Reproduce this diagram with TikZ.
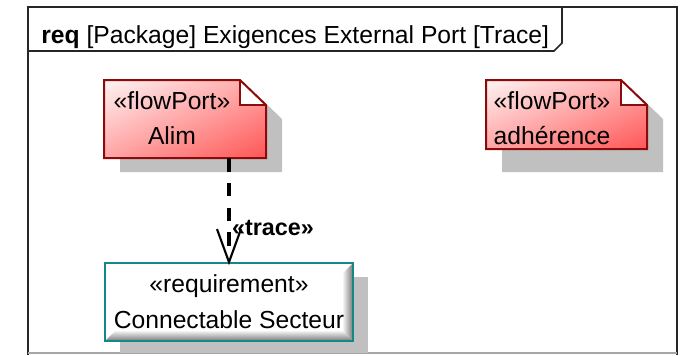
\documentclass[tikz,border=0pt]{standalone}
\usepackage{fontspec}
\setmainfont{Liberation Sans}
\usetikzlibrary{calc,shadings}
\definecolor{notered}{RGB}{140,10,10}
\definecolor{shadowgray}{RGB}{192,192,192}
\definecolor{reqteal}{RGB}{20,135,135}
\definecolor{notelight}{RGB}{255,244,244}
\definecolor{notemid}{RGB}{255,165,165}
\definecolor{notedark}{RGB}{255,85,85}
\definecolor{bevelgray}{RGB}{120,120,120}
\begin{document}
\begin{tikzpicture}[x=0.75pt,y=-0.75pt,
  txt/.style={inner sep=0pt, anchor=base, font=\fontsize{18.5}{22}\selectfont},
  boldtxt/.style={txt, font=\fontsize{17.5}{21}\selectfont\bfseries},
  area/.style={inner sep=0pt, draw=none},
  noteshade/.style={upper left=notelight, upper right=notemid, lower left=notemid, lower right=notedark},
  noteline/.style={draw=notered, line width=1.5pt, line join=miter},
  foldline/.style={draw=notered, line width=1.1pt},
  framel/.style={draw=black!85, line width=1.5pt},
  tracel/.style={line width=3pt, dash pattern=on 10pt off 8.5pt},
  vhead/.style={line width=1.6pt, line join=miter}
]
\useasboundingbox (0,0) rectangle (680,355);
\fill[white] (0,0) rectangle (680,355);

% frame
\draw[framel] (28,355) -- (28,7) -- (677,7) -- (677,355);
\draw[gray!70, line width=0.8pt] (28,353) -- (677,353);
\draw[draw=black!85, line width=1.2pt] (28,51) -- (554,51) -- (562,43) -- (562,7);
\node[txt, anchor=base west] (title) at (41,43) {\textbf{req} [Package] Exigences External Port [Trace]};

% note Alim
\fill[shadowgray] (120,94) -- (256,94) -- (282,119) -- (282,172) -- (120,172) -- cycle;
\shade[noteshade] (104,80) -- (240,80) -- (266,105) -- (266,158) -- (104,158) -- cycle;
\fill[white] (240,80) -- (266,105) -- (240,105) -- cycle;
\path[noteline] (104,80) -- (240,80) -- (266,105) -- (266,158) -- (104,158) -- cycle;
\path[foldline] (240,80) -- (240,105) -- (266,105);
\node[area, minimum width=121.5pt, minimum height=58.5pt] (alim) at (185,119) {};
\node[txt] (alimst) at (172,109) {«flowPort»};
\node[txt] (alimname) at (172,144) {Alim};

% note adherence
\fill[shadowgray] (502,94) -- (637,94) -- (663,119) -- (663,172) -- (502,172) -- cycle;
\shade[noteshade] (486,80) -- (621,80) -- (647,105) -- (647,149) -- (486,149) -- cycle;
\fill[white] (621,80) -- (647,105) -- (621,105) -- cycle;
\path[noteline] (486,80) -- (621,80) -- (647,105) -- (647,149) -- (486,149) -- cycle;
\path[foldline] (621,80) -- (621,105) -- (647,105);
\node[area, minimum width=120.75pt, minimum height=51.75pt] (adh) at (566.5,114.5) {};
\node[txt] (adhst) at (552,109) {«flowPort»};
\node[txt] (adhname) at (552,144) {adhérence};

% requirement
\fill[shadowgray] (120,277) rectangle (368,353);
\fill[white] (105,263) rectangle (353,341);
\shade[top color=white, bottom color=bevelgray] (105,341) -- (116,330) -- (342,330) -- (353,341) -- cycle;
\shade[left color=white, right color=bevelgray] (353,263) -- (342,274) -- (342,330) -- (353,341) -- cycle;
\node[area, draw=reqteal, line width=1.4pt, minimum width=186pt, minimum height=58.5pt] (req) at (229,302) {};
\node[txt] (reqst) at (229,292) {«requirement»};
\node[txt] (reqname) at (229,328) {Connectable Secteur};

% trace dependency
\draw[tracel] (req.north |- alim.south) -- ([yshift=4pt]req.north);
\draw[vhead] ([shift={(-12,-33)}]req.north) -- (req.north) -- ([shift={(12,-33)}]req.north);
\node[boldtxt] (tracelbl) at (273,235) {«trace»};
\end{tikzpicture}
\end{document}
